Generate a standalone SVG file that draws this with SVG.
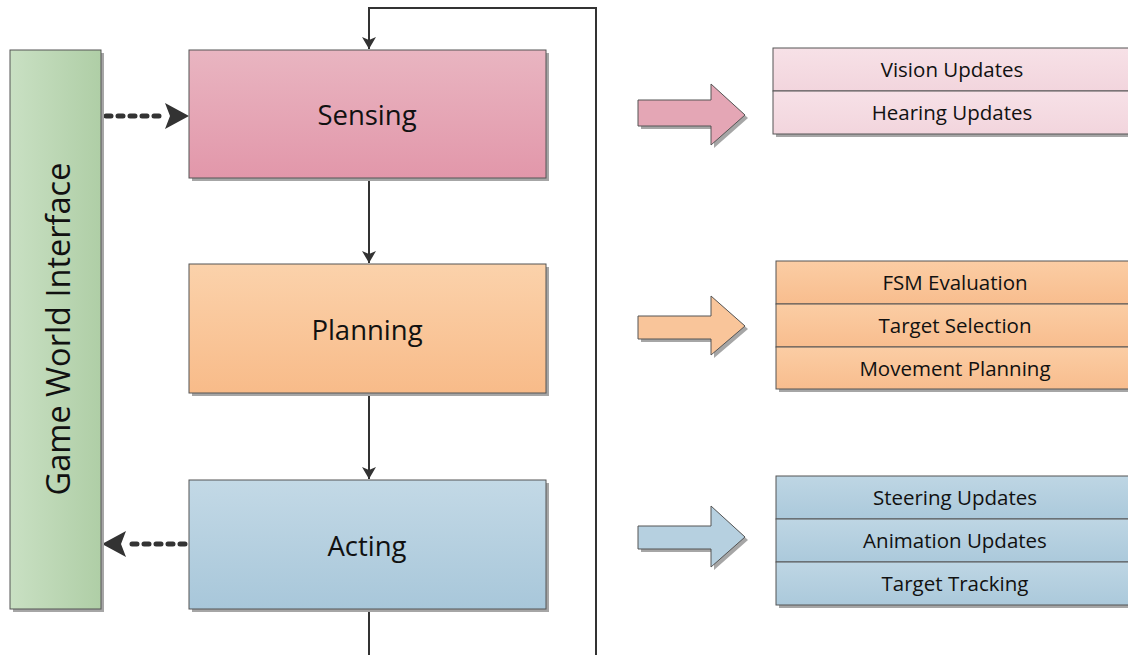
<svg xmlns="http://www.w3.org/2000/svg" width="1128" height="655" viewBox="0 0 1128 655">
<defs>
<linearGradient id="gPink" x1="0" y1="0" x2="0" y2="1"><stop offset="0" stop-color="#e9b5c1"/><stop offset="1" stop-color="#e297aa"/></linearGradient>
<linearGradient id="gOrange" x1="0" y1="0" x2="0" y2="1"><stop offset="0" stop-color="#fbd2ab"/><stop offset="1" stop-color="#f8bb89"/></linearGradient>
<linearGradient id="gBlue" x1="0" y1="0" x2="0" y2="1"><stop offset="0" stop-color="#c3d9e6"/><stop offset="1" stop-color="#a8c7da"/></linearGradient>
<linearGradient id="gGreen" x1="0" y1="0" x2="1" y2="0"><stop offset="0" stop-color="#c9e0c3"/><stop offset="1" stop-color="#afcea6"/></linearGradient>
<linearGradient id="lPink" x1="0" y1="0" x2="0" y2="1"><stop offset="0" stop-color="#f7e1e7"/><stop offset="1" stop-color="#f2d5dd"/></linearGradient>
<linearGradient id="lOrange" x1="0" y1="0" x2="0" y2="1"><stop offset="0" stop-color="#fbcda4"/><stop offset="1" stop-color="#f8bd8e"/></linearGradient>
<linearGradient id="lBlue" x1="0" y1="0" x2="0" y2="1"><stop offset="0" stop-color="#bed6e4"/><stop offset="1" stop-color="#abc9db"/></linearGradient>
<marker id="ah" viewBox="0 0 12 14" refX="12" refY="7" markerWidth="12" markerHeight="14" orient="auto" markerUnits="userSpaceOnUse"><path d="M0,0 L12,7 L0,14 L3,7 Z" fill="#333"/></marker>
</defs>
<style>
.box{stroke:#555;stroke-width:1}
.sh{fill:#a6a6a6}
.t{font-family:"Open Sans","Liberation Sans",sans-serif;fill:#111;text-anchor:middle;dominant-baseline:central}
.big{font-size:27.5px}
.sm{font-size:20.5px}
.ln{stroke:#333;stroke-width:2;fill:none}
.dash{stroke:#333;stroke-width:5;fill:none;stroke-dasharray:5 7;stroke-linecap:round}
</style>
<rect width="1128" height="655" fill="#fff"/>

<g id="connectors">
<path class="ln" d="M596,655 L596,8 L369,8 L369,49" marker-end="url(#ah)"/>
<path class="ln" d="M369,178 L369,263" marker-end="url(#ah)"/>
<path class="ln" d="M369,393 L369,479" marker-end="url(#ah)"/>
<path class="ln" d="M369,609 L369,655"/>
<path class="dash" d="M106,116 L164,116"/>
<path d="M165,103 L189,116 L165,129 L170,116 Z" fill="#333"/>
<path class="dash" d="M185,544 L128,544"/>
<path d="M126,531 L102,544 L126,557 L121,544 Z" fill="#333"/>
</g>

<g id="game-world">
<rect class="sh" x="13" y="53" width="91" height="559"/>
<rect class="box" x="10" y="50" width="91" height="559" fill="url(#gGreen)"/>
<text class="t" transform="translate(57,329) rotate(-90)" style="font-size:32.5px">Game World Interface</text>
</g>

<g id="sensing">
<rect class="sh" x="192" y="53" width="357" height="128"/>
<rect class="box" x="189" y="50" width="357" height="128" fill="url(#gPink)"/>
<text class="t big" x="367" y="114">Sensing</text>
</g>

<g id="planning">
<rect class="sh" x="192" y="267" width="357" height="129"/>
<rect class="box" x="189" y="264" width="357" height="129" fill="url(#gOrange)"/>
<text class="t big" x="367" y="329">Planning</text>
</g>

<g id="acting">
<rect class="sh" x="192" y="483" width="357" height="129"/>
<rect class="box" x="189" y="480" width="357" height="129" fill="url(#gBlue)"/>
<text class="t big" x="367" y="545">Acting</text>
</g>

<g id="arrow-sensing">
<path d="M641,103 L714,103 L714,87 L748,118 L714,148 L714,129 L641,129 Z" fill="#a6a6a6"/>
<path class="box" d="M638,100 L711,100 L711,84 L745,115 L711,145 L711,126 L638,126 Z" fill="#e4a6b5"/>
</g>
<g id="arrow-planning">
<path d="M641,319 L714,319 L714,299 L748,329 L714,358 L714,342 L641,342 Z" fill="#a6a6a6"/>
<path class="box" d="M638,316 L711,316 L711,296 L745,326 L711,355 L711,339 L638,339 Z" fill="#f9c59a"/>
</g>
<g id="arrow-acting">
<path d="M641,529 L714,529 L714,509 L748,540 L714,570 L714,552 L641,552 Z" fill="#a6a6a6"/>
<path class="box" d="M638,526 L711,526 L711,506 L745,537 L711,567 L711,549 L638,549 Z" fill="#b6d0e0"/>
</g>

<g id="sensing-list">
<rect class="sh" x="776" y="51" width="360" height="86"/>
<rect class="box" x="773" y="48" width="360" height="43" fill="url(#lPink)"/>
<rect class="box" x="773" y="91" width="360" height="43" fill="url(#lPink)"/>
<text class="t sm" x="952" y="69">Vision Updates</text>
<text class="t sm" x="952" y="112">Hearing Updates</text>
</g>

<g id="planning-list">
<rect class="sh" x="779" y="264" width="360" height="128"/>
<rect class="box" x="776" y="261" width="360" height="43" fill="url(#lOrange)"/>
<rect class="box" x="776" y="304" width="360" height="43" fill="url(#lOrange)"/>
<rect class="box" x="776" y="347" width="360" height="42" fill="url(#lOrange)"/>
<text class="t sm" x="955" y="282">FSM Evaluation</text>
<text class="t sm" x="955" y="325">Target Selection</text>
<text class="t sm" x="955" y="368">Movement Planning</text>
</g>

<g id="acting-list">
<rect class="sh" x="779" y="479" width="360" height="129"/>
<rect class="box" x="776" y="476" width="360" height="43" fill="url(#lBlue)"/>
<rect class="box" x="776" y="519" width="360" height="43" fill="url(#lBlue)"/>
<rect class="box" x="776" y="562" width="360" height="43" fill="url(#lBlue)"/>
<text class="t sm" x="955" y="497">Steering Updates</text>
<text class="t sm" x="955" y="540">Animation Updates</text>
<text class="t sm" x="955" y="583">Target Tracking</text>
</g>
</svg>
